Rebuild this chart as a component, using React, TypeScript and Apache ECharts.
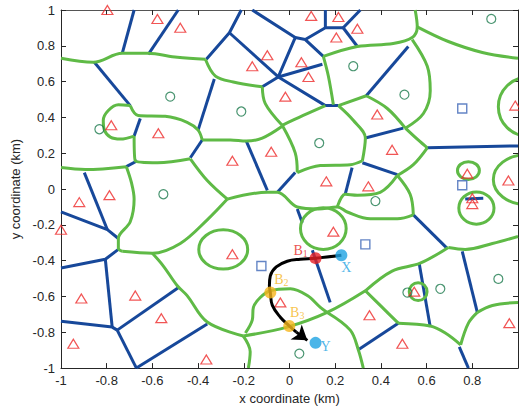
import React, { useEffect, useRef } from 'react';
import * as echarts from 'echarts';

// ---------- data (km) ----------
const triangles: number[][] = [
  [-0.797, 1.0], [-0.578, 0.95], [-0.478, 0.901], [-0.163, 0.686], [-0.25, 0.158],
  [-0.78, 0.356], [-0.574, 0.312], [0.095, 0.967], [0.214, 0.961], [0.297, 0.895],
  [0.205, 0.846], [-0.097, 0.747], [0.052, 0.708], [0.083, 0.626], [-0.018, 0.516],
  [0.384, 0.416], [-0.08, 0.208], [0.449, 0.219], [0.161, 0.043], [0.345, 0.015],
  [0.778, 0.086], [0.958, 0.048], [0.988, 0.466], [-0.92, -0.073], [-0.788, -0.034],
  [-1.0, -0.227], [-0.25, -0.364], [-0.911, -0.611], [-0.675, -0.595], [-0.561, -0.721],
  [-0.946, -0.864], [-0.364, -0.952], [0.192, -0.238], [-0.04, -0.633], [0.35, -0.705],
  [0.494, -0.864], [0.546, -0.573], [0.962, -0.749], [0.8, -0.051], [0.8, -0.084],
];

const circles: number[][] = [
  [-0.522, 0.516], [-0.211, 0.433], [-0.832, 0.334], [-0.552, -0.029], [0.279, 0.686],
  [0.503, 0.527], [0.13, 0.257], [0.883, 0.95], [0.376, -0.067], [0.516, -0.578],
  [0.66, -0.557], [0.914, -0.502], [0.043, -0.919],
];

const squares: number[][] = [
  [0.756, 0.45], [0.756, 0.021], [0.332, -0.309], [-0.123, -0.43],
];

const blueEdges: number[][][] = [
  [[-0.68, 1.0], [-0.732, 0.758]],
  [[-0.487, 1.0], [-0.618, 0.752]],
  [[-0.854, 0.708], [-0.697, 0.466]],
  [[-0.653, 0.394], [-0.68, 0.296]],
  [[-0.4, 0.329], [-0.329, 0.615]],
  [[-0.434, 0.175], [-0.382, 0.274]],
  [[-0.714, 0.125], [-0.666, 0.158]],
  [[-0.898, 0.092], [-0.797, -0.227]],
  [[-1.0, -0.128], [-0.797, -0.227], [-0.749, -0.276]],
  [[-1.0, -0.441], [-0.806, -0.392], [-0.749, -0.337]],
  [[-0.806, -0.392], [-0.776, -0.771]],
  [[-1.0, -0.738], [-0.776, -0.771], [-0.754, -0.788]],
  [[-0.754, -0.788], [-0.487, -0.551]],
  [[-0.754, -0.788], [-0.67, -1.0]],
  [[-0.67, -1.0], [-0.36, -0.754]],
  [[-0.211, 1.0], [-0.263, 0.873], [-0.364, 0.725]],
  [[-0.263, 0.873], [-0.049, 0.626]],
  [[-0.163, 1.0], [0.025, 0.846], [-0.049, 0.626]],
  [[-0.049, 0.626], [-0.119, 0.571]],
  [[-0.049, 0.626], [0.144, 0.697]],
  [[-0.049, 0.626], [0.157, 0.466], [0.214, 0.466]],
  [[0.025, 0.846], [0.069, 0.835], [0.148, 0.741]],
  [[0.069, 0.835], [0.157, 0.901], [0.235, 0.901]],
  [[0.157, 1.0], [0.157, 0.901]],
  [[0.235, 0.901], [0.31, 1.0]],
  [[0.235, 0.901], [0.297, 0.796]],
  [[0.52, 0.796], [0.336, 0.521]],
  [[0.332, 0.285], [0.498, 0.34]],
  [[0.319, 0.147], [0.472, 0.081]],
  [[0.274, 0.12], [0.244, -0.029]],
  [[0.025, 0.092], [-0.053, -0.018]],
  [[-0.189, 0.268], [-0.097, -0.007]],
  [[0.603, 0.23], [1.0, 0.241]],
  [[0.034, -0.111], [0.056, -0.188]],
  [[0.1, -0.342], [0.178, -0.633]],
  [[0.301, -0.897], [0.476, -0.749]],
  [[0.542, -0.144], [0.69, -0.331]],
  [[0.568, -0.419], [0.616, -0.771]],
  [[0.756, -0.348], [0.822, -0.689]],
  [[0.743, -0.881], [0.783, -1.0]],
  [[0.769, -0.056], [0.848, -0.051]],
];

const greenEdges: number[][][] = [
  [[-1.0, 0.73], [-0.859, 0.708], [-0.732, 0.758], [-0.622, 0.758], [-0.491, 0.736], [-0.368, 0.725]],
  [[-0.368, 0.725], [-0.324, 0.631], [-0.246, 0.598], [-0.119, 0.571]],
  [[-0.697, 0.466], [-0.749, 0.471], [-0.793, 0.439], [-0.815, 0.384], [-0.81, 0.329], [-0.784, 0.29], [-0.74, 0.279], [-0.68, 0.296]],
  [[-0.697, 0.466], [-0.662, 0.411], [-0.544, 0.406], [-0.448, 0.373], [-0.4, 0.329], [-0.382, 0.274]],
  [[-0.68, 0.296], [-0.675, 0.158], [-0.578, 0.147], [-0.434, 0.169]],
  [[-0.382, 0.274], [-0.259, 0.274], [-0.189, 0.268], [-0.119, 0.285], [-0.032, 0.351]],
  [[-1.0, 0.12], [-0.894, 0.109], [-0.714, 0.125]],
  [[-0.714, 0.125], [-0.692, 0.037], [-0.68, -0.056], [-0.697, -0.183], [-0.749, -0.276], [-0.749, -0.331], [-0.732, -0.348]],
  [[-0.732, -0.348], [-0.6, -0.359], [-0.478, -0.304], [-0.36, -0.172], [-0.272, -0.056]],
  [[-0.434, 0.169], [-0.36, 0.048], [-0.272, -0.056]],
  [[-0.272, -0.056], [-0.097, -0.018], [-0.053, -0.018], [0.034, -0.1], [0.126, -0.111], [0.209, -0.1], [0.253, -0.128], [0.354, -0.166], [0.472, -0.166], [0.542, -0.144]],
  [[0.209, -0.1], [0.244, -0.029], [0.297, -0.034], [0.397, -0.018], [0.472, 0.076]],
  [[0.472, 0.076], [0.528, -0.029], [0.542, -0.144]],
  [[0.472, 0.076], [0.542, 0.136], [0.603, 0.23]],
  [[0.603, 0.23], [0.563, 0.274], [0.507, 0.34]],
  [[-0.6, -0.359], [-0.552, -0.43], [-0.491, -0.54], [-0.448, -0.595], [-0.36, -0.743], [-0.202, -0.821]],
  [[-0.202, -0.821], [-0.172, -0.908], [-0.18, -1.0]],
  [[-0.202, -0.821], [-0.01, -0.771], [0.165, -0.689], [0.332, -0.568]],
  [[0.332, -0.568], [0.449, -0.458], [0.572, -0.414], [0.695, -0.326]],
  [[0.332, -0.568], [0.406, -0.661], [0.476, -0.749]],
  [[0.476, -0.749], [0.616, -0.765], [0.682, -0.804], [0.749, -0.87]],
  [[0.749, -0.87], [0.783, -0.749], [0.822, -0.689]],
  [[0.822, -0.689], [0.888, -0.65], [1.0, -0.633]],
  [[0.695, -0.326], [0.769, -0.337], [0.888, -0.304], [1.0, -0.265]],
  [[-0.193, -0.804], [-0.163, -0.732], [-0.158, -0.661], [-0.128, -0.606], [-0.084, -0.568], [0.004, -0.557], [0.078, -0.595], [0.135, -0.661], [0.165, -0.689]],
  [[0.165, -0.689], [0.266, -0.788], [0.301, -0.897], [0.323, -1.0]],
  [[0.55, 1.0], [0.559, 0.906], [0.537, 0.846], [0.454, 0.813], [0.297, 0.796], [0.148, 0.741]],
  [[0.559, 0.906], [0.695, 0.824], [0.844, 0.763], [1.0, 0.73]],
  [[0.537, 0.835], [0.603, 0.686], [0.616, 0.549], [0.586, 0.422], [0.507, 0.34]],
  [[0.148, 0.741], [0.17, 0.631], [0.192, 0.471]],
  [[0.214, 0.466], [0.279, 0.384], [0.332, 0.285], [0.319, 0.158]],
  [[0.034, 0.092], [0.135, 0.131], [0.266, 0.136], [0.319, 0.158]],
  [[0.336, 0.521], [0.428, 0.45], [0.507, 0.34]],
  [[0.336, 0.521], [0.214, 0.466]],
  [[0.157, 0.466], [0.06, 0.411], [-0.032, 0.356]],
  [[-0.119, 0.571], [-0.106, 0.477], [-0.032, 0.356]],
  [[-0.032, 0.356], [0.025, 0.202], [0.034, 0.092]],
];

// closed boundaries: [centre x, centre y, half-width, half-height] in km
const greenLoops: number[][] = [
  [-0.29, -0.337, 0.107, 0.11],
  [0.148, -0.221, 0.1, 0.116],
  [0.563, -0.573, 0.039, 0.05],
  [0.818, -0.106, 0.077, 0.09],
  [0.783, 0.103, 0.048, 0.05],
  [1.045, 0.46, 0.131, 0.165],
  [1.032, 0.053, 0.14, 0.138],
];

const pathCurve: number[][] = [
  [0.227, -0.37], [0.114, -0.386], [0.047, -0.392], [-0.01, -0.403], [-0.058, -0.435],
  [-0.084, -0.485], [-0.088, -0.54], [-0.084, -0.578], [-0.075, -0.65], [-0.04, -0.716],
  [-0.001, -0.765], [0.03, -0.799],
];
const arrowHead: number[][] = [[0.03, -0.799], [0.078, -0.845]];

const pointX = [0.227, -0.37];
const pointB1 = [0.114, -0.386];
const pointB2 = [-0.084, -0.578];
const pointB3 = [-0.001, -0.765];
const pointY = [0.114, -0.859];

// ---------- styles ----------
const BLUE = '#17489a';
const GREEN = '#5fba46';
const RED = '#ee2a2a';
const DARKGREEN = '#1d7a4e';
const SQBLUE = '#3d66b6';
const CYAN = '#1ea3e2';
const ORANGE = '#f6b51c';
const BRED = '#e61f26';
const AXIS = '#262626';
const SANS = 'Liberation Sans, Arial, sans-serif';
const SERIF = 'Liberation Serif, Times New Roman, serif';

function keyPoint(value: number[], color: string, labelText: string, labelColor: string, offset: number[]) {
  return {
    type: 'scatter',
    data: [value],
    symbol: 'circle',
    symbolSize: 12,
    z: 12,
    silent: true,
    itemStyle: { color, borderWidth: 0 },
    label: {
      show: true,
      position: 'inside',
      offset,
      formatter: labelText,
      fontFamily: SERIF,
      fontSize: 14,
      color: labelColor,
      rich: {
        b: { fontSize: 14, fontFamily: SERIF, color: labelColor, lineHeight: 15, verticalAlign: 'top' },
        s: { fontSize: 10, fontFamily: SERIF, color: labelColor, lineHeight: 11, verticalAlign: 'bottom' },
      },
    },
  };
}

export default function App() {
  const ref = useRef<HTMLDivElement>(null);
  useEffect(() => {
    if (!ref.current) return;
    const chart = echarts.init(ref.current, undefined, { renderer: 'svg' });
    const baseX = { type: 'value', min: -1, max: 1, interval: 0.2, splitLine: { show: false } };
    const baseY = { type: 'value', min: -1, max: 1, interval: 0.2, splitLine: { show: false } };
    const series: any[] = [];
    blueEdges.forEach((poly) => {
      series.push({
        type: 'line', data: poly, showSymbol: false, symbol: 'none', silent: true, z: 2,
        lineStyle: { color: BLUE, width: 3 },
      });
    });
    greenEdges.forEach((poly) => {
      series.push({
        type: 'line', data: poly, showSymbol: false, symbol: 'none', silent: true, z: 3, smooth: 0.35,
        lineStyle: { color: GREEN, width: 3 },
      });
    });
    series.push({
      type: 'custom', coordinateSystem: 'cartesian2d', clip: true, silent: true, z: 3,
      data: greenLoops,
      encode: { x: 0, y: 1 },
      renderItem: (_p: any, api: any) => {
        const c = api.coord([api.value(0), api.value(1)]);
        const s = api.size([api.value(2), api.value(3)]);
        return {
          type: 'ellipse',
          shape: { cx: c[0], cy: c[1], rx: s[0], ry: s[1] },
          style: { fill: 'none', stroke: GREEN, lineWidth: 3 },
        };
      },
    });
    series.push({
      type: 'scatter', data: triangles, symbol: 'triangle', symbolSize: [11, 9], z: 6, silent: true,
      itemStyle: { color: 'rgba(255,255,255,0)', borderColor: RED, borderWidth: 1.2 },
    });
    series.push({
      type: 'scatter', data: circles, symbol: 'circle', symbolSize: 9, z: 6, silent: true,
      itemStyle: { color: 'rgba(255,255,255,0)', borderColor: DARKGREEN, borderWidth: 1.2 },
    });
    series.push({
      type: 'scatter', data: squares, symbol: 'rect', symbolSize: 9, z: 6, silent: true,
      itemStyle: { color: 'rgba(255,255,255,0)', borderColor: SQBLUE, borderWidth: 1.4 },
    });
    series.push({
      type: 'line', data: pathCurve, showSymbol: false, symbol: 'none', smooth: 0.4, silent: true, z: 10,
      lineStyle: { color: '#000', width: 3 },
    });
    series.push({
      type: 'lines', coordinateSystem: 'cartesian2d', silent: true, z: 10,
      symbol: ['none', 'arrow'], symbolSize: 14,
      lineStyle: { color: '#000', width: 3, opacity: 1 },
      data: [{ coords: arrowHead }],
    });
    series.push(keyPoint(pointX, CYAN, 'X', CYAN, [5, 12]));
    series.push(keyPoint(pointB1, BRED, '{b|B}{s|1}', BRED, [-15, -7]));
    series.push(keyPoint(pointB2, ORANGE, '{b|B}{s|2}', ORANGE, [11, -13]));
    series.push(keyPoint(pointB3, ORANGE, '{b|B}{s|3}', ORANGE, [8, -13]));
    series.push(keyPoint(pointY, CYAN, 'Y', CYAN, [10, 4]));

    chart.setOption({
      animation: false,
      backgroundColor: '#ffffff',
      grid: { left: 61, top: 10, width: 457, height: 364, show: false },
      xAxis: [
        {
          ...baseX, position: 'bottom',
          name: 'x coordinate (km)', nameLocation: 'middle', nameGap: 23,
          nameTextStyle: { fontSize: 13, color: AXIS, fontFamily: SANS },
          axisLine: { show: true, onZero: false, lineStyle: { color: AXIS, width: 1 } },
          axisTick: { show: true, inside: true, length: 5, lineStyle: { color: AXIS } },
          axisLabel: {
            show: true, margin: 6, fontSize: 13, color: AXIS, fontFamily: SANS, showMaxLabel: false,
          },
        },
        {
          ...baseX, position: 'top',
          axisLine: { show: true, onZero: false, lineStyle: { color: '#555', width: 1 } },
          axisTick: { show: true, inside: true, length: 5, lineStyle: { color: AXIS } },
          axisLabel: { show: false },
        },
      ],
      yAxis: [
        {
          ...baseY, position: 'left',
          name: 'y coordinate (km)', nameLocation: 'middle', nameGap: 36, nameRotate: 90,
          nameTextStyle: { fontSize: 13, color: AXIS, fontFamily: SANS },
          axisLine: { show: true, onZero: false, lineStyle: { color: AXIS, width: 1 } },
          axisTick: { show: true, inside: true, length: 5, lineStyle: { color: AXIS } },
          axisLabel: { show: true, margin: 6, fontSize: 13, color: AXIS, fontFamily: SANS },
        },
        {
          ...baseY, position: 'right',
          axisLine: { show: true, onZero: false, lineStyle: { color: AXIS, width: 1 } },
          axisTick: { show: true, inside: true, length: 5, lineStyle: { color: AXIS } },
          axisLabel: { show: false },
        },
      ],
      series,
    });
    return () => chart.dispose();
  }, []);
  return (
    <div
      ref={ref}
      style={{ position: 'fixed', left: 0, top: 0, width: 519, height: 410, background: '#fff' }}
    />
  );
}
